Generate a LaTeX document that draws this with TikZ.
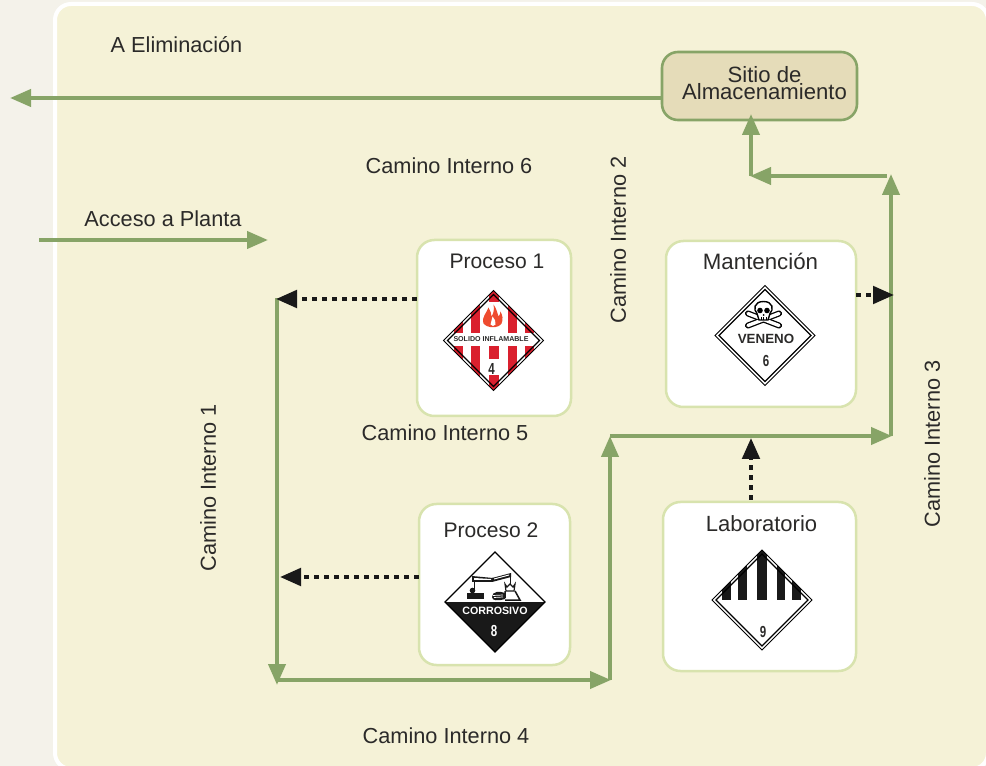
\documentclass[tikz,border=0pt]{standalone}
\usepackage{fontspec}
\setmainfont{Liberation Sans}
\usetikzlibrary{arrows.meta}
\definecolor{pagebg}{HTML}{F4F2EA}
\definecolor{panelbg}{HTML}{F5F2D7}
\definecolor{pathgreen}{HTML}{87A467}
\definecolor{softgreen}{HTML}{D8E3AE}
\definecolor{storebg}{HTML}{E5DCB9}
\definecolor{ink}{HTML}{2B2A29}
\definecolor{hazred}{HTML}{DA202E}
\definecolor{flame}{HTML}{EE4B2F}
\tikzset{
  px/.style={line width=#1*0.75pt},
  road/.style={draw=pathgreen,px=4,-{Triangle[length=15.75pt,width=12.75pt,fill=pathgreen]}},
  flow/.style={draw=black!90,px=4,dash pattern=on 3.4pt off 4.1pt,-{Triangle[length=15.75pt,width=13pt,fill=black!90,sep=0pt]}},
  room/.style={draw=softgreen,px=2.5,fill=white,rounded corners=13pt,inner sep=0pt,outer sep=0pt,text width=0pt},
  store/.style={draw=pathgreen,px=2.6,fill=storebg,rounded corners=12pt,inner sep=0pt,outer sep=0pt},
  lab/.style={text=ink,font=\fontsize{16.3}{18}\selectfont,inner sep=0pt},
  vlab/.style={lab,rotate=90},
  pbold/.style={inner sep=0pt,font=\fontsize{#1}{#1}\selectfont\bfseries},
  pnum/.style={inner sep=0pt,xscale=0.72,transform shape,font=\fontsize{12}{12}\selectfont\bfseries},
}
\def\diampath#1{(0,-#1)--(#1,0)--(0,#1)--(-#1,0)--cycle}
\newcommand\placardframe{%
  \draw[black,px=1] \diampath{50};
  \draw[black,px=1.4] \diampath{46};
}
\begin{document}
\begin{tikzpicture}[x=0.75pt,y=-0.75pt]
\useasboundingbox (0,0) rectangle (986,766);
\fill[pagebg] (0,0) rectangle (986,766);
\draw[white,px=4,fill=panelbg,rounded corners=12pt] (55,4) rectangle (988,769);

% boxes
\path[store] (662,52) rectangle (857,120);
\node[inner sep=0pt,minimum width=195*0.75pt,minimum height=68*0.75pt] (sitio) at (759.5,86) {};
\path[room] (417,240) rectangle (571,416);
\node[inner sep=0pt,minimum width=154*0.75pt,minimum height=176*0.75pt] (p1) at (494,328) {};
\path[room] (666,241) rectangle (856,407);
\node[inner sep=0pt,minimum width=190*0.75pt,minimum height=166*0.75pt] (mant) at (761,324) {};
\path[room] (419,504) rectangle (570,665);
\node[inner sep=0pt,minimum width=151*0.75pt,minimum height=161*0.75pt] (p2) at (494.5,584.5) {};
\path[room] (663,502) rectangle (856,671);
\node[inner sep=0pt,minimum width=193*0.75pt,minimum height=169*0.75pt] (labo) at (759.5,586.5) {};

% labels
\node[lab] (t1) at (176.5,45) {A Eliminación};
\node[lab,align=center,font=\fontsize{16.6}{12.75}\selectfont] (t2) at (764.5,83.5) {Sitio de\\Almacenamiento};
\node[lab] (t4) at (449,166) {Camino Interno 6};
\node[lab] (t5) at (163,219) {Acceso a Planta};
\node[lab,font=\fontsize{15.8}{18}\selectfont] (t6) at (497,261) {Proceso 1};
\node[lab,font=\fontsize{16.7}{18}\selectfont] (t7) at (760.5,261) {Mantención};
\node[lab] (t8) at (445,433) {Camino Interno 5};
\node[lab,font=\fontsize{15.8}{18}\selectfont] (t9) at (491,530) {Proceso 2};
\node[lab,font=\fontsize{16.5}{18}\selectfont] (t10) at (761.5,524) {Laboratorio};
\node[lab] (t11) at (446,736) {Camino Interno 4};
\node[vlab] (t12) at (618,240) {Camino Interno 2};
\node[vlab] (t13) at (208,488) {Camino Interno 1};
\node[vlab] (t14) at (932,444) {Camino Interno 3};

% connectors
\coordinate (outW) at (10,98);
\coordinate (outE) at (sitio.west|-outW);
\coordinate (inW) at (39,240);
\coordinate (inE) at (268,240);
\coordinate (a) at (277,298);
\coordinate (b) at (277,685);
\coordinate (b2) at (277,680);
\coordinate (c) at (611,680);
\coordinate (c2) at (610,680);
\coordinate (d) at (610,436);
\coordinate (e) at (892,436);
\coordinate (e2) at (891,436);
\coordinate (f) at (891,174);
\coordinate (g) at (887,176);
\coordinate (h) at (750,176);
\coordinate (h2) at (751,176);
\coordinate (k) at (751,114);
\draw[road] (outE) -- (outW);
\draw[road] (inW) -- (inE);
\draw[road] (a) -- (b);
\draw[road] (b2) -- (c);
\draw[road] (c2) -- (d);
\draw[road] (d) -- (e);
\draw[road] (e2) -- (f);
\draw[road] (g) -- (h);
\draw[road] (h2) -- (k);
\coordinate (q1) at (p1.west|-0,299);
\coordinate (q1e) at (276,299);
\coordinate (q2) at (p2.west|-0,577);
\coordinate (q2e) at (280,577);
\coordinate (q3) at (mant.east|-0,295);
\coordinate (q3e) at (894,295);
\coordinate (q4) at (751,500);
\coordinate (q4e) at (751,438);
\draw[flow] (q1) -- (q1e);
\draw[flow] (q2) -- (q2e);
\draw[flow] (q3) -- (q3e);
\draw[flow] (q4) -- (q4e);

% placard 4
\begin{scope}[shift={(493.5,340.5)}]
  \fill[white] \diampath{50};
  \begin{scope}
    \clip \diampath{50};
    \foreach \xa/\xb in {-5/5,-23/-14,-40/-31,14/23,31/40}
      \fill[hazred] (\xa,-50) rectangle (\xb,50);
    \fill[white] (-50,-7) rectangle (50,6);
    \fill[white] (-6,-38) rectangle (6,-7);
    \fill[white] (-6,19) rectangle (6,35);
  \end{scope}
  \placardframe
  \fill[flame] (-10,-17) .. controls (-12,-24) and (-7,-27) .. (-5,-33)
     .. controls (-3,-29) and (-2,-27) .. (-2,-24)
     .. controls (0,-27) and (1,-31) .. (0,-36)
     .. controls (3,-32) and (4,-27) .. (5,-24)
     .. controls (6,-25) and (7,-27) .. (7,-29)
     .. controls (9,-25) and (10,-21) .. (8,-17)
     .. controls (5,-12) and (-6,-12) .. (-10,-17) -- cycle;
  \fill[white] (-3,-16) .. controls (-3,-19) and (-1,-21) .. (-1,-24)
     .. controls (1,-21) and (3,-19) .. (2,-16)
     .. controls (1,-14) and (-2,-14) .. (-3,-16) -- cycle;
  \node[pbold=5.3,text=ink] (n4t) at (-2.5,-1) {SOLIDO INFLAMABLE};
  \node[pnum,text=ink] (n4) at (-2,28.5) {4};
\end{scope}

% placard 6
\begin{scope}[shift={(765,335.5)}]
  \fill[white] \diampath{50};
  \placardframe
  \foreach \ax/\ay/\bx/\by in {-17/-22/14/-10,-17/-10/14/-22}{
    \draw[black,px=6,line cap=round] (\ax,\ay) -- (\bx,\by);
  }
  \foreach \ax/\ay/\bx/\by in {-17/-22/14/-10,-17/-10/14/-22}{
    \draw[white,px=3.4,line cap=round] (\ax,\ay) -- (\bx,\by);
  }
  \draw[black,px=1.4,fill=white] (-1.5,-34) .. controls (-11,-34) and (-12,-26) .. (-8,-22)
     -- (-6,-15.5) -- (3,-15.5) -- (5,-22) .. controls (9,-26) and (8,-34) .. (-1.5,-34) -- cycle;
  \fill[black] (-5,-25) circle (2.8);
  \fill[black] (2,-25) circle (2.8);
  \fill[black] (-1.5,-20.5) circle (1);
  \draw[black,px=0.9] (-4,-15.5) -- (-4,-18) (-1.5,-15.5) -- (-1.5,-18) (1,-15.5) -- (1,-18);
  \node[pbold=10,text=ink] (n6t) at (1,3) {VENENO};
  \node[pnum,text=ink] (n6) at (1,25.5) {6};
\end{scope}

% placard 8
\begin{scope}[shift={(495,602)}]
  \fill[white] \diampath{50};
  \fill[black!90] (-50,0) -- (50,0) -- (0,50) -- cycle;
  \draw[black,px=1.3] \diampath{50};
  \fill[black!90] (-23,-26) -- (-2,-24) -- (-2,-20) -- (-23,-20) -- cycle;
  \fill[white] (-21,-24) -- (-4,-23) -- (-4,-22) -- (-21,-22) -- cycle;
  \fill[black!90] (-3,-24) -- (16,-29) -- (16,-25) -- (-3,-20) -- cycle;
  \fill[white] (-1,-23.5) -- (14,-27.5) -- (14,-26.5) -- (-1,-22.5) -- cycle;
  \draw[black!90,px=1] (-21,-20) -- (-21,-13) (15,-25) -- (15,-18);
  \fill[black!90] (-28,-9) rectangle (-11,-3);
  \fill[black!90] (-22.5,-11.5) circle (2.8);
  \fill[black!90] (-3,-5) .. controls (-3,-11) and (5,-11) .. (10,-9) -- (10,-3) .. controls (3,-1) and (-3,-1) .. (-3,-5) -- cycle;
  \draw[white,px=0.7] (-2,-6.5) -- (8,-7) (-1,-4.5) -- (8,-5);
  \draw[black!90,px=1.2,fill=white] (10,-18) -- (12,-15) -- (15,-18) -- (18,-15) -- (20,-18) -- (19,-11) -- (11,-11) -- cycle;
  \draw[black!90,px=1.5] (10,-11) -- (10,-4) (20,-11) -- (25,-2) -- (10,-2);
  \node[pbold=8,text=white] (n8t) at (0,9) {CORROSIVO};
  \node[pnum,text=white] (n8) at (-1,29) {8};
\end{scope}

% placard 9
\begin{scope}[shift={(762,600)}]
  \fill[white] \diampath{50};
  \begin{scope}
    \clip \diampath{50};
    \foreach \xa/\xb in {-5/5,-24/-15,-40/-31,15/23,30/39}
      \fill[black!90] (\xa,-50) rectangle (\xb,0);
  \end{scope}
  \placardframe
  \node[pnum,text=ink] (n9) at (1,31.5) {9};
\end{scope}
\end{tikzpicture}
\end{document}
